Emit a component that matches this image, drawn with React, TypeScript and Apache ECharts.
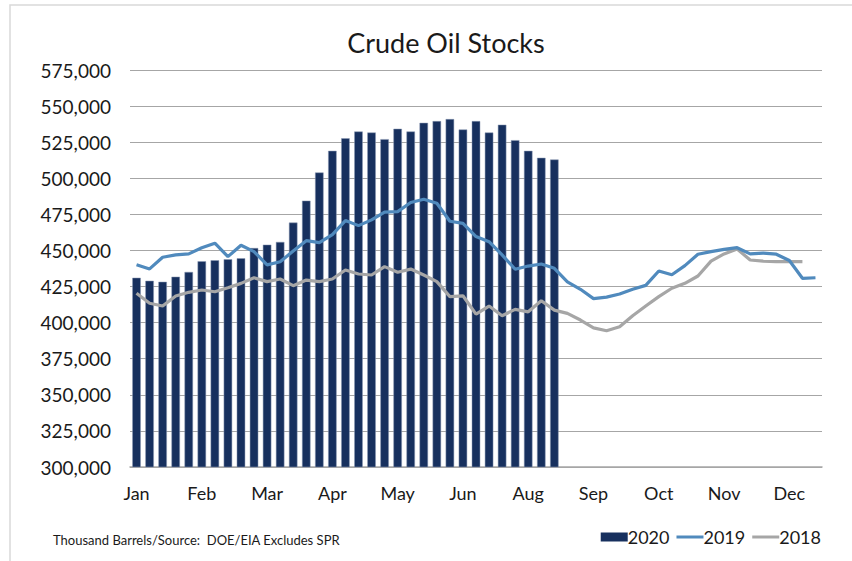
import React, { useEffect, useRef } from "react";
import * as echarts from "echarts";

const weeks: string[] = Array.from({ length: 53 }, (_, i) => `W${i + 1}`);
const monthLabels = ["Jan", "Feb", "Mar", "Apr", "May", "Jun", "Aug", "Sep", "Oct", "Nov", "Dec"];

const stocks2020 = [
  431.1, 429.0, 428.3, 431.8, 435.1, 442.5, 443.2, 443.9, 444.6, 451.7,
  454.0, 455.9, 469.3, 484.5, 504.0, 519.0, 527.7, 532.4, 531.7, 527.1,
  534.3, 532.4, 538.4, 539.6, 541.0, 533.8, 539.6, 531.7, 537.1, 526.4,
  519.0, 514.2, 513.0,
].map((v) => v * 1000);

const stocks2019 = [
  440.1, 437.2, 445.3, 446.9, 447.6, 451.9, 455.0, 445.7, 453.6, 449.2,
  440.0, 442.2, 449.6, 456.8, 455.4, 461.0, 470.7, 467.2, 471.2, 476.5,
  476.9, 483.2, 485.5, 482.7, 470.2, 468.8, 459.6, 456.1, 446.9, 437.0,
  439.2, 440.6, 437.6, 428.3, 423.1, 416.6, 417.7, 419.8, 423.1, 425.8,
  435.8, 433.2, 439.5, 447.4, 449.2, 450.8, 451.9, 447.6, 448.1, 447.4,
  443.0, 430.7, 431.1,
].map((v) => v * 1000);

const stocks2018 = [
  420.3, 413.4, 411.5, 418.4, 421.0, 422.6, 421.4, 424.2, 427.2, 431.1,
  428.4, 430.2, 425.6, 429.5, 428.4, 430.2, 436.5, 433.7, 433.0, 438.8,
  434.9, 437.1, 433.0, 428.4, 418.0, 418.6, 405.9, 411.5, 404.8, 409.2,
  407.5, 415.2, 408.7, 406.4, 401.8, 396.4, 394.4, 397.1, 404.8, 411.5,
  418.0, 423.8, 427.2, 432.3, 442.6, 447.6, 451.0, 443.4, 442.6, 442.2,
  442.2, 442.2,
].map((v) => v * 1000);

const yTicks = { min: 300000, max: 575000, interval: 25000 };

const lineIcon = "path://M0,0 L27,0 L27,3 L0,3 Z";

export default function App() {
  const ref = useRef<HTMLDivElement>(null);
  useEffect(() => {
    document.body.style.margin = "0";
    if (!ref.current) return;
    const chart = echarts.init(ref.current, null, { renderer: "svg" });
    const font = "Lato";
    chart.setOption({
      animation: false,
      backgroundColor: "#ffffff",
      textStyle: { fontFamily: font, color: "#1a1a1a" },
      title: {
        text: "Crude Oil Stocks",
        left: 441,
        top: 24,
        textAlign: "center",
        textStyle: { fontFamily: font, fontSize: 27, fontWeight: "normal", color: "#1a1a1a" },
      },
      graphic: [
        {
          type: "rect",
          shape: { x: 10, y: 5, width: 900, height: 700 },
          style: { fill: "none", stroke: "#d9d9d9", lineWidth: 1.5 },
          silent: true,
          z: -10,
        },
        {
          type: "text",
          left: 53,
          top: 533,
          style: {
            text: "Thousand Barrels/Source:  DOE/EIA Excludes SPR",
            fontFamily: font,
            fontSize: 13,
            fill: "#1a1a1a",
          },
        },
      ],
      legend: {
        right: 26,
        top: 523,
        itemWidth: 27,
        itemHeight: 9,
        itemGap: 7,
        textStyle: { fontFamily: font, fontSize: 18, color: "#1a1a1a", padding: [0, 0, 0, -5] },
        data: [
          { name: "2020", icon: "rect", itemStyle: { borderWidth: 0 } },
          { name: "2019", icon: lineIcon },
          { name: "2018", icon: lineIcon },
        ],
      },
      grid: { left: 130, right: 30, top: 70, bottom: 94, containLabel: false },
      xAxis: {
        type: "category",
        data: weeks,
        boundaryGap: true,
        axisLine: { lineStyle: { color: "#a6a6a6", width: 1.5 } },
        axisTick: { show: false },
        axisLabel: {
          interval: 0,
          margin: 17,
          fontFamily: font,
          fontSize: 18,
          color: "#1a1a1a",
          formatter: (_v: string, i: number) => (i % 5 === 0 && monthLabels[i / 5] ? monthLabels[i / 5] : ""),
        },
        splitLine: { show: false },
      },
      yAxis: {
        type: "value",
        min: yTicks.min,
        max: yTicks.max,
        interval: yTicks.interval,
        axisLine: { show: false },
        axisTick: { show: false },
        axisLabel: {
          margin: 19,
          fontFamily: font,
          fontSize: 19,
          color: "#1a1a1a",
          formatter: (v: number) => v.toLocaleString("en-US"),
        },
        splitLine: { lineStyle: { color: "#a6a6a6", width: 1.2 } },
      },
      series: [
        {
          name: "2020",
          type: "bar",
          data: stocks2020,
          barWidth: "65%",
          itemStyle: { color: "#17305e", borderColor: "#8d9ab5", borderWidth: 0.5 },
          z: 1,
        },
        {
          name: "2019",
          type: "line",
          data: stocks2019,
          symbol: "none",
          lineStyle: { color: "#508abd", width: 3.2 },
          itemStyle: { color: "#508abd" },
          z: 3,
        },
        {
          name: "2018",
          type: "line",
          data: stocks2018,
          symbol: "none",
          lineStyle: { color: "#a6a6a6", width: 3.2 },
          itemStyle: { color: "#a6a6a6" },
          z: 2,
        },
      ],
    });
    return () => chart.dispose();
  }, []);
  return <div ref={ref} style={{ width: 852, height: 561 }} />;
}
